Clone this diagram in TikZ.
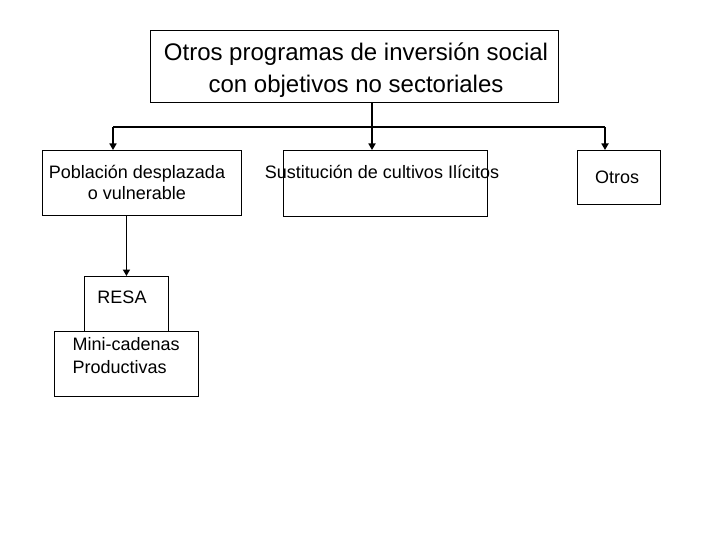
\documentclass[tikz,border=0pt]{standalone}
\usepackage{fontspec}
\setmainfont{Liberation Sans}
\usetikzlibrary{positioning, arrows.meta, calc}

\begin{document}
\begin{tikzpicture}[x=1pt, y=-1pt,
  box/.style={draw, line width=0.9pt, inner sep=0pt, anchor=north west},
  big/.style={font=\fontsize{24}{32}\selectfont},
  small/.style={font=\fontsize{18}{21}\selectfont},
  link/.style={line width=1.6pt},
  arr/.style={line width=1.6pt, -{Triangle[length=6.5pt, width=7pt]}}]
  \useasboundingbox[fill=white] (0,0) rectangle (720,540);
  % Top box
  \node[box, minimum width=408pt, minimum height=72pt] (top) at (150,30) {};
  \node[big, align=center] (toptext) at (356,70)
    {Otros programas de inversi\'on social\\ con objetivos no sectoriales};
  % Second level
  \node[box, minimum width=199pt, minimum height=65pt] (pob) at (42,150) {};
  \node[small, align=center] (pobtext) at (137,182)
    {Poblaci\'on desplazada\\ o vulnerable};
  \node[box, minimum width=204pt, minimum height=66pt] (sus) at (283,150) {};
  \node[small] (sustext) at (382,172)
    {Sustituci\'on de cultivos Il\'icitos};
  \node[box, minimum width=83pt, minimum height=54pt] (otr) at (577,150) {};
  \node[small] (otrtext) at (617,177) {Otros};
  % Third level
  \node[box, minimum width=84pt, minimum height=55pt] (resa) at (84,276) {};
  \node[small] (resatext) at (122,297) {RESA};
  \node[box, minimum width=144pt, minimum height=65pt] (mini) at (54,331) {};
  \node[small, align=left, anchor=west, font=\fontsize{18}{23}\selectfont] (minitext) at (69,356)
    {Mini-cadenas\\ Productivas};
  % Connectors
  \coordinate (split) at (372,127);
  \coordinate (inpob) at (113,150);
  \coordinate (insus) at (372,150);
  \coordinate (inotr) at (605,150);
  \draw[link] (top.south -| split) -- (split);
  \draw[link] (inpob |- split) -- (inotr |- split);
  \foreach \c in {inpob, insus, inotr}
    \draw[arr] (\c |- split) -- (\c);
  \draw[arr] (resa.north |- pob.south) -- (resa.north);
\end{tikzpicture}
\end{document}
